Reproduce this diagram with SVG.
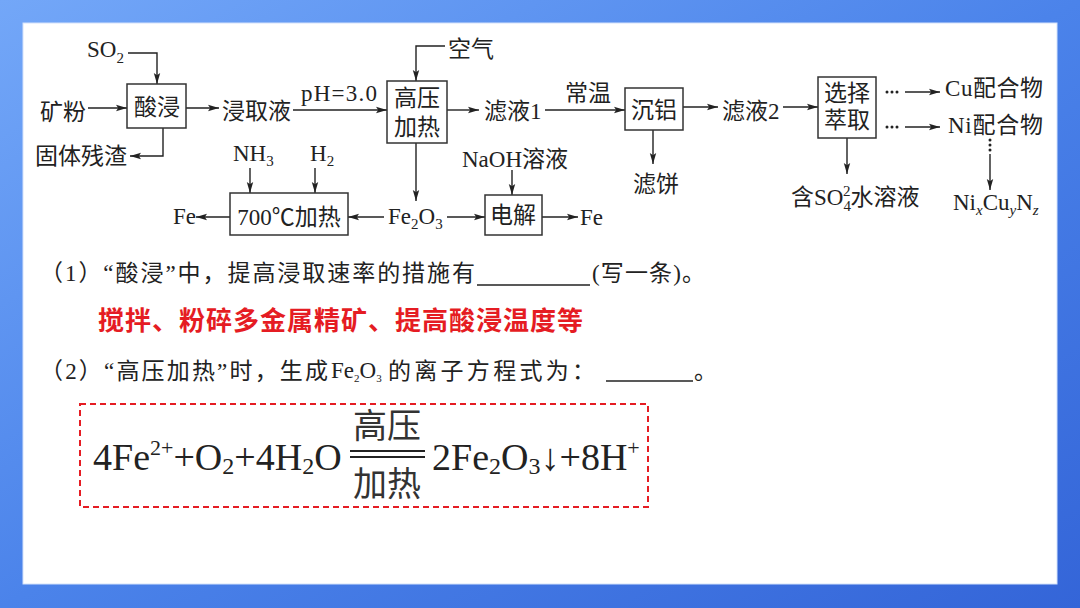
<svg xmlns="http://www.w3.org/2000/svg" width="1080" height="608" viewBox="0 0 1080 608">
<defs>
<linearGradient id="bg" x1="0" y1="0" x2="1" y2="1">
<stop offset="0" stop-color="#73a7f8"/>
<stop offset="0.5" stop-color="#4b83ea"/>
<stop offset="1" stop-color="#3465d8"/>
</linearGradient>
<marker id="ar" markerUnits="userSpaceOnUse" markerWidth="12" markerHeight="8" refX="11" refY="4" orient="auto">
<path d="M0,0.8 L11,4 L0,7.2 L2.2,4 z" fill="#222"/>
</marker>
<style>
.t{font-family:"Liberation Serif","Noto Sans CJK SC",serif;font-size:23px;fill:#222}
.m{text-anchor:middle}
.box{fill:#fff;stroke:#333;stroke-width:1.5}
.ln{fill:none;stroke:#222;stroke-width:1.4}
.a{marker-end:url(#ar)}
.dot{fill:none;stroke:#222;stroke-width:3;stroke-linecap:round;stroke-dasharray:0 5}
.q{font-family:"Liberation Serif","Noto Sans CJK SC",serif;font-size:23px;fill:#222}
.red{font-family:"Noto Sans CJK SC","Liberation Sans",sans-serif;font-size:26px;font-weight:bold;fill:#e51c23}
.eq{font-family:"Liberation Serif","Noto Sans CJK SC",serif;font-size:38px;fill:#222}
.eqc{font-family:"Liberation Serif","Noto Sans CJK SC",serif;font-size:34px;fill:#333}
</style>
</defs>
<rect x="0" y="0" width="1080" height="608" fill="url(#bg)"/>
<rect x="23" y="23" width="1034" height="561" fill="#fff" stroke="#d3e2fb" stroke-width="1"/>

<g id="connectors">
<path class="ln a" d="M128,53 H157 V84"/>
<path class="ln a" d="M88,108 H127"/>
<path class="ln a" d="M186,108 H219"/>
<path class="ln a" d="M163,128 V156 H130"/>
<path class="ln a" d="M293,110 H387"/>
<path class="ln a" d="M445,46 H416 V81"/>
<path class="ln a" d="M447,110 H479"/>
<path class="ln a" d="M545,110 H625"/>
<path class="ln a" d="M653,130 V164"/>
<path class="ln a" d="M683,107 H718"/>
<path class="ln a" d="M783,107 H818"/>
<path class="dot" d="M887,92 H898"/>
<path class="ln a" d="M905,92 H940"/>
<path class="dot" d="M887,127 H898"/>
<path class="ln a" d="M905,127 H940"/>
<path class="dot" d="M990,140 V152"/>
<path class="ln a" d="M990,154 V190"/>
<path class="ln a" d="M847,138 V174"/>
<path class="ln a" d="M416,143 V201"/>
<path class="ln a" d="M250,168 V193"/>
<path class="ln a" d="M315,168 V193"/>
<path class="ln a" d="M230,217 H196"/>
<path class="ln a" d="M384,217 H348"/>
<path class="ln a" d="M447,217 H485"/>
<path class="ln a" d="M512,170 V195"/>
<path class="ln a" d="M542,217 H578"/>
</g>

<g id="n-so2"><text class="t" x="87" y="57" font-size="24">SO<tspan dy="6" font-size="15">2</tspan></text></g>
<g id="n-kuangfen"><text class="t" x="40" y="120">矿粉</text></g>
<g id="n-suanjin"><rect class="box" x="127" y="84" width="59" height="44"/><text class="t m" x="157" y="115">酸浸</text></g>
<g id="n-guti"><text class="t" x="35" y="164">固体残渣</text></g>
<g id="n-jinquye"><text class="t" x="222" y="119">浸取液</text></g>
<g id="n-ph"><text class="t" x="301" y="101" textLength="76" lengthAdjust="spacing">pH=3.0</text></g>
<g id="n-kongqi"><text class="t" x="448" y="57">空气</text></g>
<g id="n-gaoya"><rect class="box" x="387" y="81" width="60" height="62"/><text class="t m" x="417" y="106">高压</text><text class="t m" x="417" y="135">加热</text></g>
<g id="n-lvye1"><text class="t" x="484" y="119">滤液1</text></g>
<g id="n-changwen"><text class="t" x="565" y="101">常温</text></g>
<g id="n-chenlv"><rect class="box" x="625" y="88" width="58" height="42"/><text class="t m" x="654" y="118">沉铝</text></g>
<g id="n-lvbing"><text class="t" x="633" y="192">滤饼</text></g>
<g id="n-lvye2"><text class="t" x="722" y="119">滤液2</text></g>
<g id="n-xuanze"><rect class="box" x="818" y="77" width="58" height="61"/><text class="t m" x="847" y="101">选择</text><text class="t m" x="847" y="128">萃取</text></g>
<g id="n-cu"><text class="t" x="945" y="96" textLength="98" lengthAdjust="spacing">Cu配合物</text></g>
<g id="n-ni"><text class="t" x="948" y="133" textLength="95" lengthAdjust="spacing">Ni配合物</text></g>
<g id="n-so4"><text class="t" x="791" y="205">含SO<tspan dy="6" font-size="15">4</tspan><tspan dx="-8" dy="-15" font-size="15">2</tspan><tspan dy="9">水溶液</tspan></text></g>
<g id="n-nicun"><text class="t" x="953" y="210">Ni<tspan dy="5" font-size="15" font-style="italic">x</tspan><tspan dy="-5">Cu</tspan><tspan dy="5" font-size="15" font-style="italic">y</tspan><tspan dy="-5">N</tspan><tspan dy="5" font-size="15" font-style="italic">z</tspan></text></g>
<g id="n-nh3"><text class="t" x="233" y="161">NH<tspan dy="5" font-size="15">3</tspan></text></g>
<g id="n-h2"><text class="t" x="310" y="161">H<tspan dy="5" font-size="15">2</tspan></text></g>
<g id="n-700"><rect class="box" x="230" y="193" width="118" height="42"/><text class="t m" x="289" y="225">700℃加热</text></g>
<g id="n-fe1"><text class="t" x="173" y="224">Fe</text></g>
<g id="n-fe2o3"><text class="t" x="388" y="224" font-size="24">Fe<tspan dy="5" font-size="15">2</tspan><tspan dy="-5">O</tspan><tspan dy="5" font-size="15">3</tspan></text></g>
<g id="n-naoh"><text class="t" x="462" y="167">NaOH溶液</text></g>
<g id="n-dianjie"><rect class="box" x="485" y="195" width="57" height="40"/><text class="t m" x="513" y="223">电解</text></g>
<g id="n-fe3"><text class="t" x="580" y="225">Fe</text></g>

<g id="questions">
<text class="q" x="40" y="281" textLength="435" lengthAdjust="spacing">（1）“酸浸”中，提高浸取速率的措施有</text>
<line x1="477" y1="285" x2="590" y2="285" stroke="#222" stroke-width="1.5"/>
<text class="q" x="592" y="281" textLength="113" lengthAdjust="spacing">(写一条)。</text>
<text class="red" x="98" y="330" textLength="485" lengthAdjust="spacing">搅拌、粉碎多金属精矿、提高酸浸温度等</text>
<text class="q" x="40" y="379" textLength="288" lengthAdjust="spacing">（2）“高压加热”时，生成</text>
<text class="q" x="331" y="378" font-size="17">Fe<tspan dy="4" font-size="11">2</tspan><tspan dy="-4">O</tspan><tspan dy="4" font-size="11">3</tspan></text>
<text class="q" x="388" y="379" textLength="207" lengthAdjust="spacing">的离子方程式为：</text>
<line x1="606" y1="381" x2="693" y2="381" stroke="#222" stroke-width="1.5"/>
<text class="q" x="694" y="379">。</text>
</g>

<g id="answer">
<rect x="80" y="404" width="568" height="103" fill="none" stroke="#e51c23" stroke-width="2" stroke-dasharray="6 4"/>
<text class="eq" x="93" y="470">4Fe<tspan dy="-15" font-size="22">2+</tspan><tspan dy="15">+O</tspan><tspan dy="4" font-size="24">2</tspan><tspan dy="-4">+4H</tspan><tspan dy="4" font-size="24">2</tspan><tspan dy="-4">O</tspan></text>
<text class="eqc m" x="387" y="438">高压</text>
<line x1="350" y1="451" x2="425" y2="451" stroke="#222" stroke-width="2"/>
<line x1="350" y1="457" x2="425" y2="457" stroke="#222" stroke-width="2"/>
<text class="eqc m" x="387" y="496">加热</text>
<text class="eq" x="432" y="470">2Fe<tspan dy="4" font-size="24">2</tspan><tspan dy="-4">O</tspan><tspan dy="4" font-size="24">3</tspan><tspan dy="-4">↓+8H</tspan><tspan dy="-15" font-size="22">+</tspan></text>
</g>
</svg>
